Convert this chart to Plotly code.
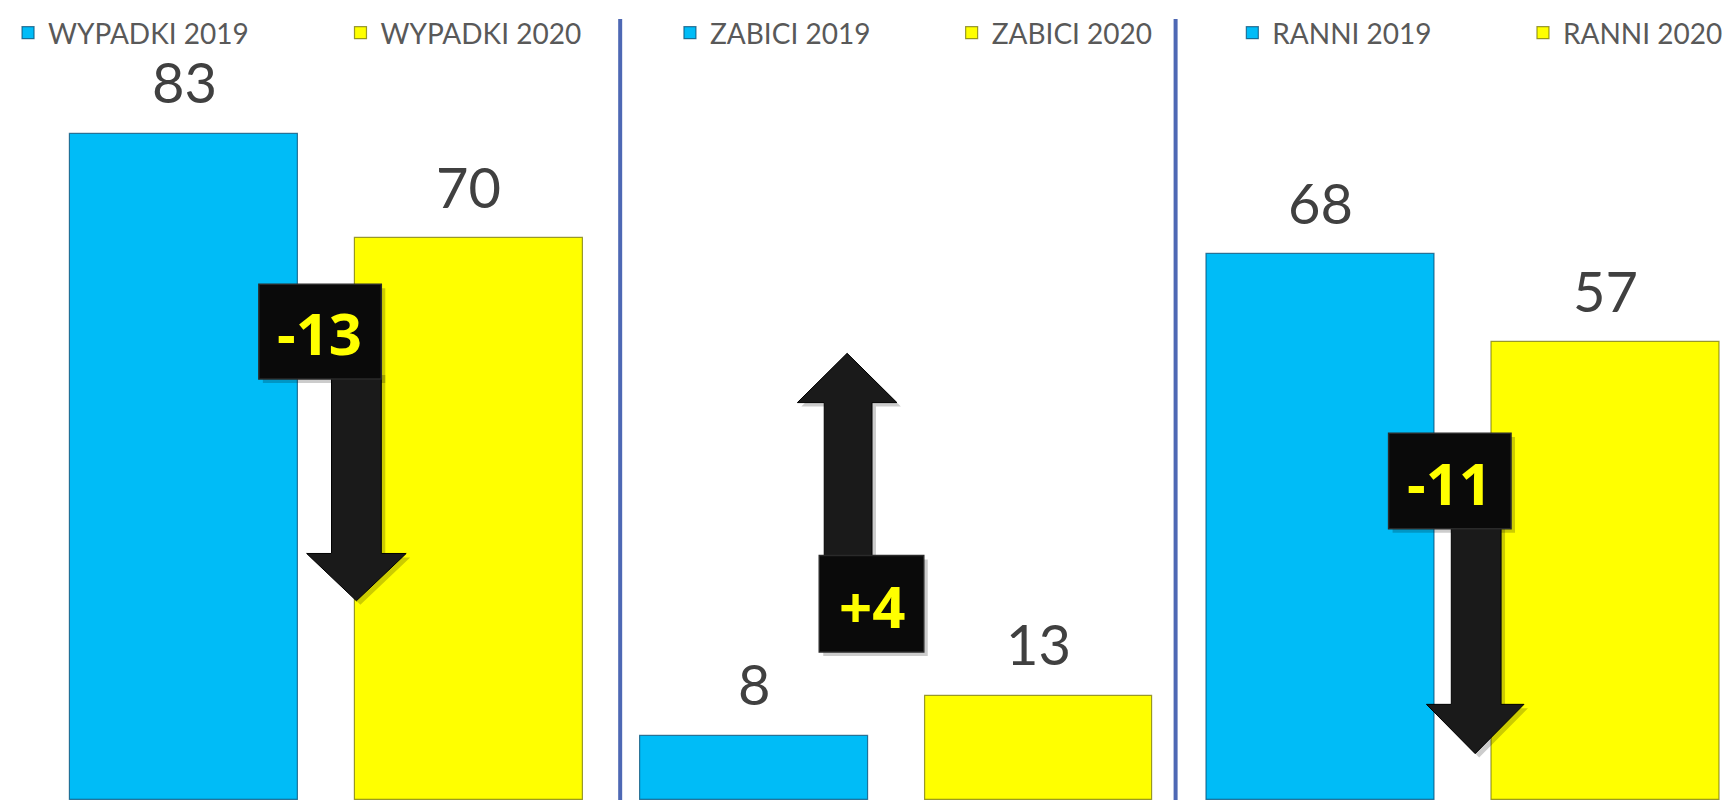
import plotly.graph_objects as go

# ---- data ----
categories = ["WYPADKI", "ZABICI", "RANNI"]
years = ["2019", "2020"]
values_2019 = [83, 8, 68]
values_2020 = [70, 13, 57]
change_labels = ["-13", "+4", "-11"]

# page offset (default body margin of the html page)
OFF = 8
W, H = 1732 - OFF, 800 - OFF
BLUE = "#00BCF7"
YELLOW = "#FFFF00"


def px(x):
    return (x - OFF) / W


def py(y):
    return 1 - (y - OFF) / H


# panel geometry (screen pixels)
panel_edges = [(0, 615), (615, 1173), (1173, 1732)]
first_bar_center = [177, 749.5, 1319]
bar_spacing = 286.0
bar_width = 0.80
px_per_unit = 8.14
y_max = H / px_per_unit

fig = go.Figure()

legend_marker_left = [12, 346, 677, 960, 1242, 1534]
legend_ids = ["legend", "legend2", "legend3", "legend4", "legend5", "legend6"]

layout_axes = {}
for i, cat in enumerate(categories):
    xa = "x" if i == 0 else f"x{i+1}"
    ya = "y" if i == 0 else f"y{i+1}"
    for j, (vals, col, lc) in enumerate(
        [(values_2019, BLUE, "rgba(0,70,110,0.7)"), (values_2020, YELLOW, "rgba(110,110,0,0.7)")]
    ):
        fig.add_trace(
            go.Bar(
                x=[j],
                y=[vals[i]],
                width=bar_width,
                name=f"{cat} {years[j]}",
                marker=dict(color=col, line=dict(color=lc, width=1.2)),
                xaxis=xa,
                yaxis=ya,
                legend=legend_ids[i * 2 + j],
                showlegend=True,
                hoverinfo="skip",
            )
        )
        fig.add_annotation(
            x=j,
            y=vals[i],
            xref=xa,
            yref=ya,
            text=str(vals[i]),
            showarrow=False,
            yanchor="middle",
            yshift=52,
            font=dict(family="Lato", size=56, color="#404040"),
        )
    l, r = panel_edges[i]
    l = max(l, OFF)
    c = first_bar_center[i]
    xkey = "xaxis" if i == 0 else f"xaxis{i+1}"
    ykey = "yaxis" if i == 0 else f"yaxis{i+1}"
    layout_axes[xkey] = dict(
        domain=[px(l), px(r)],
        range=[(l - c) / bar_spacing, (r - c) / bar_spacing],
        visible=False,
        fixedrange=True,
        anchor=ya,
    )
    layout_axes[ykey] = dict(
        domain=[0, 1], range=[0, y_max], visible=False, fixedrange=True, anchor=xa
    )

legend_layouts = {}
for k, lid in enumerate(legend_ids):
    legend_layouts[lid] = dict(
        x=(legend_marker_left[k] - OFF - 12) / W,
        xanchor="left",
        y=py(22),
        yanchor="middle",
        orientation="h",
        bgcolor="rgba(0,0,0,0)",
        font=dict(family="Lato", size=28, color="#595959"),
        itemclick=False,
        itemdoubleclick=False,
    )

shapes = []
# separators
for xs in [615, 1173]:
    shapes.append(dict(type="line", xref="paper", yref="paper", x0=px(xs), x1=px(xs), y0=0, y1=1,
                       line=dict(color="#4E68B4", width=4)))


def rect_path(x0, y0, x1, y1):
    return f"M{px(x0)},{py(y0)} L{px(x1)},{py(y0)} L{px(x1)},{py(y1)} L{px(x0)},{py(y1)} Z"


def arrow_path(sx0, sx1, sy0, sy1, hx0, hx1, tipx, tipy):
    return (f"M{px(sx0)},{py(sy0)} L{px(sx1)},{py(sy0)} L{px(sx1)},{py(sy1)} "
            f"L{px(hx1)},{py(sy1)} L{px(tipx)},{py(tipy)} L{px(hx0)},{py(sy1)} "
            f"L{px(sx0)},{py(sy1)} Z")


# arrow geometry per panel (screen pixels): box, shaft, head, label centre
arrows = [
    dict(box=(252, 277, 375, 373), shaft=(325, 375, 365, 550), head=(300, 400, 350, 598), label=(313, 326)),
    dict(box=(815, 552, 920, 650), shaft=(820, 868, 560, 397), head=(793, 893, 843, 347), label=(868, 603)),
    dict(box=(1387, 428, 1510, 525), shaft=(1450, 1500, 518, 703), head=(1425, 1523, 1474, 753), label=(1448, 478)),
]

for i, a in enumerate(arrows):
    sx0, sx1, sy0, sy1 = a["shaft"]
    hx0, hx1, tx, ty = a["head"]
    bx0, by0, bx1, by1 = a["box"]
    off = 4
    shapes.append(dict(type="path", xref="paper", yref="paper",
                       path=arrow_path(sx0 + off, sx1 + off, sy0 + off, sy1 + off, hx0 + off, hx1 + off, tx + off, ty + off),
                       fillcolor="rgba(0,0,0,0.2)", line=dict(width=0)))
    shapes.append(dict(type="path", xref="paper", yref="paper",
                       path=rect_path(bx0 + off, by0 + off, bx1 + off, by1 + off),
                       fillcolor="rgba(0,0,0,0.2)", line=dict(width=0)))
    shapes.append(dict(type="path", xref="paper", yref="paper",
                       path=arrow_path(sx0, sx1, sy0, sy1, hx0, hx1, tx, ty),
                       fillcolor="#1A1A1A", line=dict(color="#000000", width=1)))
    shapes.append(dict(type="path", xref="paper", yref="paper",
                       path=rect_path(bx0, by0, bx1, by1),
                       fillcolor="#0A0A0A", line=dict(color="#2A2A2A", width=1.5)))
    lx, ly = a["label"]
    fig.add_annotation(x=px(lx), y=py(ly), xref="paper", yref="paper", text=f"<b>{change_labels[i]}</b>",
                       showarrow=False, xanchor="center", yanchor="middle",
                       font=dict(family="Open Sans", size=58, color="#FFFF00"))

fig.update_layout(
    width=W,
    height=H,
    margin=dict(l=0, r=0, t=0, b=0),
    paper_bgcolor="white",
    plot_bgcolor="rgba(0,0,0,0)",
    showlegend=True,
    shapes=shapes,
    bargap=0,
    **layout_axes,
    **legend_layouts,
)

fig.write_html("out.html")
